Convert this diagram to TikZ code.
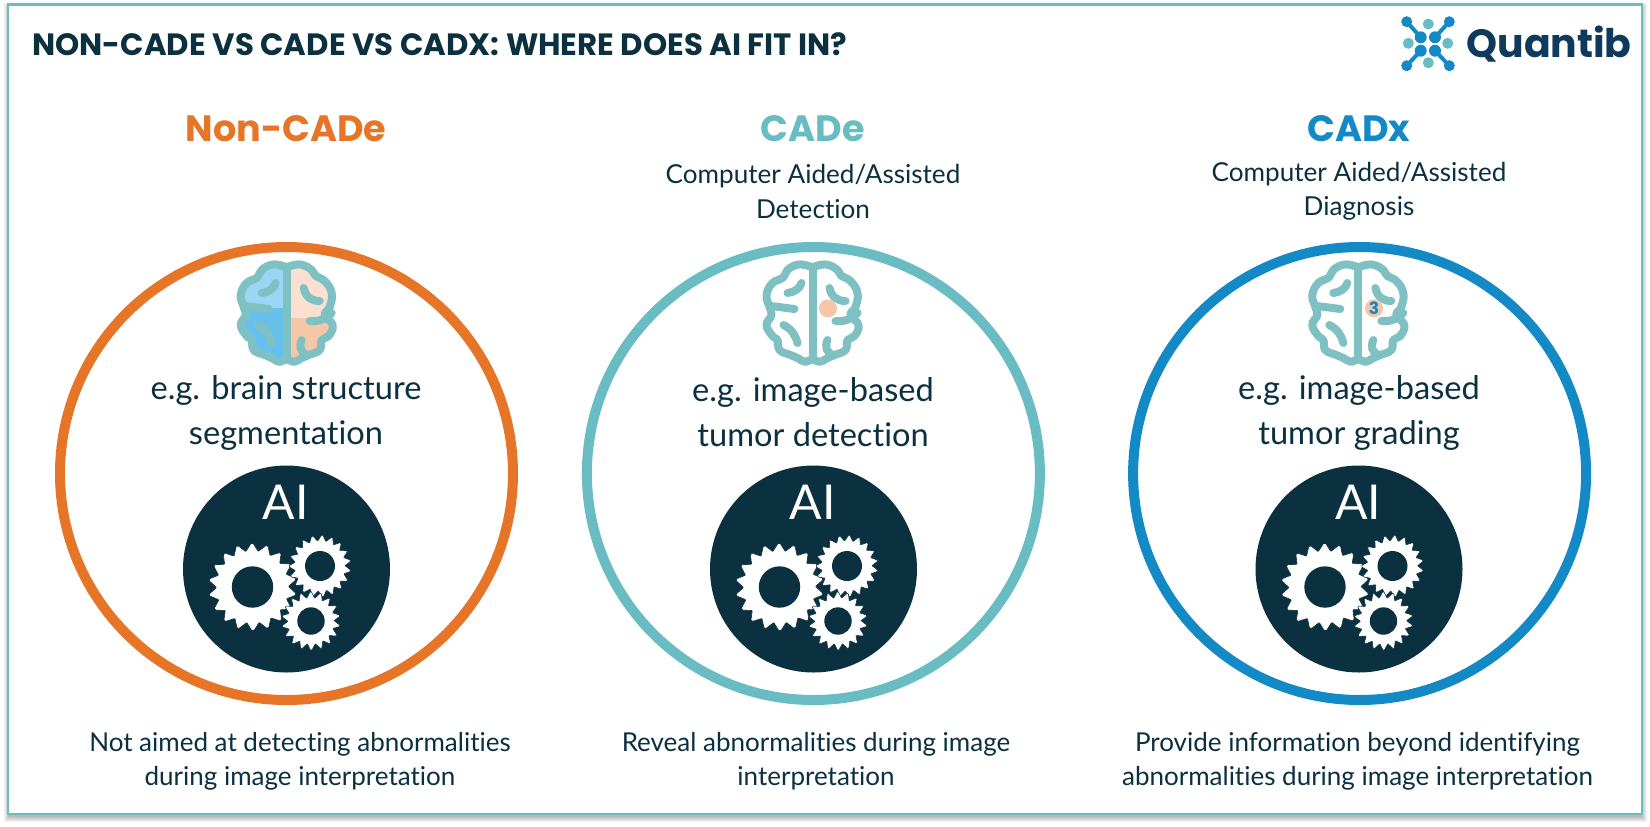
\documentclass[tikz,border=0pt]{standalone}
\usepackage{fontspec}
\usetikzlibrary{calc}
\setmainfont{Lato}[Ligatures=NoCommon]
\newfontfamily\headfont{Poppins}
\definecolor{navy}{HTML}{0B3040}
\definecolor{logonavy}{HTML}{0E3A5C}
\definecolor{qorange}{HTML}{E67528}
\definecolor{qteal}{HTML}{69BCC2}
\definecolor{qblue}{HTML}{1389C5}
\definecolor{braincol}{HTML}{7FC1C3}
\definecolor{spotcol}{HTML}{F6C6A9}
\definecolor{lightblue}{HTML}{9CD5F3}
\definecolor{midblue}{HTML}{66C0EC}
\definecolor{lightpeach}{HTML}{FBE0D2}
\newcommand{\brainpath}{plot[smooth cycle,tension=0.75] coordinates {(0,-46) (7,-48) (16,-48) (25,-43) (29,-37) (38,-32) (45,-20) (43,-6) (38,2) (46,12) (42,23) (35,27) (33,37) (22,42) (15,45) (7,49) (0,46) (-7,49) (-15,45) (-22,42) (-33,37) (-35,27) (-40,23) (-46,12) (-41,2) (-43,-6) (-46,-18) (-40,-30) (-30,-35) (-25,-43) (-16,-48) (-7,-48)}}
\tikzset{
  ringnode/.style={circle,draw,line width=5pt,minimum size=226.5pt,inner sep=0pt},
  headnode/.style={font=\headfont\bfseries\fontsize{18.3}{22}\selectfont},
  subnode/.style={text=navy,align=center,font=\fontsize{13.05}{17.2}\selectfont},
  examplenode/.style={text=navy,align=center,font=\fontsize{16.3}{22.5}\selectfont},
  notenode/.style={text=navy,align=center,font=\fontsize{13}{17.2}\selectfont},
  pics/brain/.style={code={
    \draw[braincol,line width=4pt,line cap=round,line join=round] \brainpath;
    \draw[braincol,line width=4pt,line cap=round] (0,-46) -- (0,46);
    \draw[braincol,line width=4pt,line cap=round] (17,-25) .. controls (19,-16) and (25,-12) .. (33,-12);
    \draw[braincol,line width=4pt,line cap=round] (23,8) .. controls (32,9) and (39,6) .. (45,0);
    \draw[braincol,line width=4pt,line cap=round] (15,27) .. controls (12,34) and (14,39) .. (20,42);
    \draw[braincol,line width=4pt,line cap=round] (-25,-20) .. controls (-18,-21) and (-13,-24) .. (-11,-30);
    \draw[braincol,line width=4pt,line cap=round] (-42,-7) .. controls (-33,-6) and (-26,-5) .. (-18,-4);
    \draw[braincol,line width=4pt,line cap=round] (-29,12) .. controls (-21,16) and (-17,22) .. (-15,30);
  }},
  pics/aibadge/.style={code={
    \node[circle,fill=navy,minimum size=103.5pt,inner sep=0pt] (disc) at (0,0) {};
    \node[text=white,font=\fontsize{24}{24}\selectfont] (label) at (-1,-67) {AI};
    \foreach \cx/\cy/\rroot/\rtip/\rhole/\teeth in {-34/18/36.5/43.5/20.7/18,33.5/-3/25.5/30.7/15/19,24.5/52/23.5/29/13.7/18}{
      \pgfmathsetmacro{\stepang}{360/\teeth}
      \fill[white,draw=navy,line width=0.3pt] (\cx,\cy) ++(0:\rroot)
        foreach \i in {1,...,\teeth} {
          -- ($(\cx,\cy)+({(\i-0.6)*\stepang}:\rtip)$) -- ($(\cx,\cy)+({(\i-0.45)*\stepang}:\rtip)$)
          -- ($(\cx,\cy)+({(\i-0.08)*\stepang}:\rroot)$) -- ($(\cx,\cy)+({\i*\stepang}:\rroot)$)
        } -- cycle;
      \fill[navy] (\cx,\cy) circle[radius=\rhole];
    }
  }},
}
\begin{document}
\begin{tikzpicture}[x=0.5pt,y=-0.5pt]
  \useasboundingbox (0,0) rectangle (1650,826);
  % frame
  \coordinate (framea) at (8,4.5);
  \coordinate (frameb) at (1642,814);
  \foreach \d in {1,...,6} {
    \fill[black,opacity=0.05] ($(framea)+(-\d+2,-\d+4)$) rectangle ($(frameb)+(\d-1,\d+2)$);
  }
  \draw[qteal,line width=1.2pt,fill=white] (framea) rectangle (frameb);

  \node[anchor=west,inner sep=0pt,text=navy,font=\headfont\bfseries\fontsize{15.4}{18}\selectfont] (title) at (32,44) {NON-CADE VS CADE VS CADX: WHERE DOES AI FIT IN?};

  % logo
  \coordinate (la) at (1406.7,21.7);
  \coordinate (lb) at (1449.3,21.7);
  \coordinate (lc) at (1406.7,65.7);
  \coordinate (ld) at (1449.3,65.7);
  \coordinate (ia) at (1420.7,37.3);
  \coordinate (ib) at (1435,37.3);
  \coordinate (ic) at (1420.7,50.7);
  \coordinate (id) at (1435,50.7);
  \draw[qblue,line width=2pt] (la) -- (ia) (lb) -- (ib) (lc) -- (ic) (ld) -- (id);
  \fill[qblue] (la) circle[radius=5.5] (lb) circle[radius=5.5] (lc) circle[radius=5.5] (ld) circle[radius=5.5];
  \fill[qblue] (ia) circle[radius=6] (ib) circle[radius=6] (ic) circle[radius=6] (id) circle[radius=6];
  \fill[qteal] (1428.3,24) circle[radius=5.5] (1428.3,62.7) circle[radius=5.5] (1408.3,43.3) circle[radius=5.5] (1447.7,43.3) circle[radius=5.5];
  \node[anchor=west,inner sep=0pt,text=logonavy,font=\headfont\bfseries\fontsize{19.7}{24}\selectfont] (logo) at (1466,44) {Quantib};

  % left column
  \node[headnode,text=qorange] (head1) at (286,129) {Non-CADe};
  \node[ringnode,draw=qorange] (ring1) at (286.5,473.5) {};
  \begin{scope}[shift={(286.7,313)}]
    \clip \brainpath;
    \fill[lightblue] (-50,-50) rectangle (0,-5);
    \fill[midblue] (-50,-5) rectangle (0,52);
    \fill[lightpeach] (0,-50) rectangle (50,5);
    \fill[spotcol] (0,5) rectangle (50,52);
  \end{scope}
  \pic (brain1) at (286.7,313) {brain};
  \node[examplenode] (ex1) at (286,412.5) {e.g. brain structure\\segmentation};
  \pic (ai1) at (286.5,569) {aibadge};
  \node[notenode] (note1) at (300,761) {Not aimed at detecting abnormalities\\during image interpretation};

  % middle column
  \node[headnode,text=qteal] (head2) at (813,129) {CADe};
  \node[subnode] (sub2) at (813,191.5) {Computer Aided/Assisted\\Detection};
  \node[ringnode,draw=qteal] (ring2) at (813.4,473.5) {};
  \pic (brain2) at (812.5,313) {brain};
  \node[circle,fill=spotcol,minimum size=9pt,inner sep=0pt] (spot2) at (828,308.3) {};
  \node[examplenode] (ex2) at (813,412.5) {e.g. image-based\\tumor detection};
  \pic (ai2) at (813.5,569) {aibadge};
  \node[notenode] (note2) at (816,761) {Reveal abnormalities during image\\interpretation};

  % right column
  \node[headnode,text=qblue] (head3) at (1359,129) {CADx};
  \node[subnode] (sub3) at (1359,191.5) {Computer Aided/Assisted\\Diagnosis};
  \node[ringnode,draw=qblue] (ring3) at (1359.6,473.5) {};
  \pic (brain3) at (1358.3,313) {brain};
  \node[circle,fill=spotcol,minimum size=9pt,inner sep=0pt,text=qblue,font=\headfont\bfseries\fontsize{8.5}{8.5}\selectfont] (spot3) at (1374,308.3) {3};
  \node[examplenode] (ex3) at (1359,412.5) {e.g. image-based\\tumor grading};
  \pic (ai3) at (1359,569) {aibadge};
  \node[notenode] (note3) at (1357.5,761) {Provide information beyond identifying\\abnormalities during image interpretation};
\end{tikzpicture}
\end{document}
